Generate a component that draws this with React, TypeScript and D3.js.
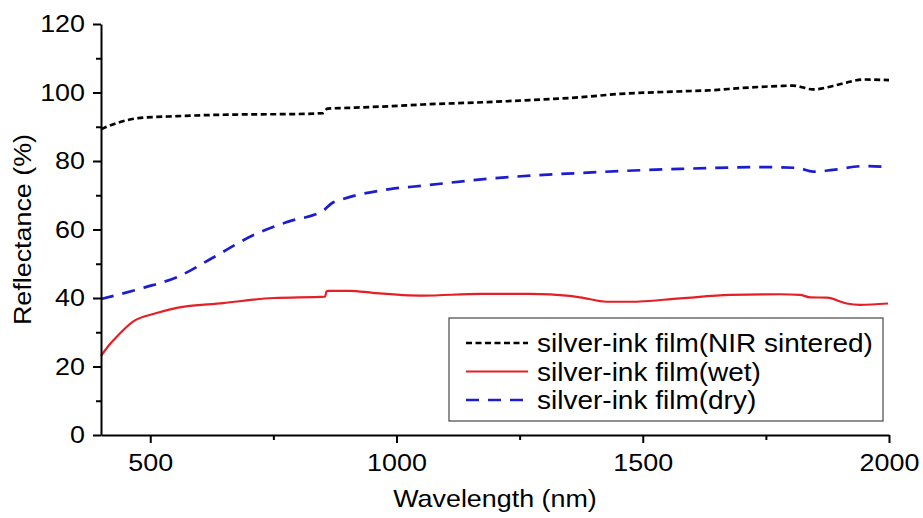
import React, { useRef, useEffect } from "react";
import * as d3 from "d3";

// NIR sintered
const sinteredWl = [400, 435, 475, 556, 615, 692, 794, 851, 860, 900, 987, 1054, 1184, 1271, 1373, 1454, 1550, 1643, 1700, 1779, 1805, 1846, 1886, 1914, 1948, 2000];
const sinteredR = [89.3, 91.2, 92.5, 93.1, 93.4, 93.6, 93.7, 94.0, 95.3, 95.5, 96.0, 96.5, 97.2, 97.8, 98.6, 99.6, 100.2, 100.7, 101.3, 101.9, 102.0, 100.9, 101.9, 102.9, 103.8, 103.6];

// wet
const wetWl = [400, 415, 432, 465, 513, 554, 648, 750, 855, 858, 861, 906, 952, 1054, 1170, 1271, 1352, 1373, 1427, 1474, 1576, 1677, 1779, 1819, 1840, 1874, 1914, 1941, 1998];
const wetR = [23.1, 26.0, 28.7, 33.1, 35.6, 37.1, 38.5, 40.0, 40.4, 42.0, 42.1, 42.1, 41.5, 40.7, 41.2, 41.2, 40.6, 40.2, 38.9, 38.9, 39.9, 40.9, 41.1, 40.9, 40.2, 40.1, 38.4, 38.0, 38.4];

// dry
const dryWl = [400, 489, 556, 625, 716, 780, 851, 870, 885, 987, 1054, 1184, 1373, 1576, 1744, 1813, 1846, 1886, 1948, 2000];
const dryR = [39.7, 43.1, 46.2, 51.6, 58.8, 62.3, 65.5, 67.8, 68.6, 71.8, 72.8, 74.8, 76.5, 77.7, 78.2, 78.0, 76.9, 77.4, 78.5, 78.3];

const xMajor = [500, 1000, 1500, 2000];
const xMinor = [750, 1250, 1750];
const yMajor = [0, 20, 40, 60, 80, 100, 120];
const yMinor = [10, 30, 50, 70, 90, 110];

const legendLabels = ["silver-ink film(NIR sintered)", "silver-ink film(wet)", "silver-ink film(dry)"];

const W = 923;
const H = 518;
const FONT = "'Liberation Sans', Arial, sans-serif";
const STRETCH = 1.12;

export default function App() {
  const svgRef = useRef<SVGSVGElement>(null);

  useEffect(() => {
    const svg = d3.select(svgRef.current);
    svg.selectAll("*").remove();

    const x = d3.scaleLinear().domain([400, 2000]).range([101, 889]);
    const y = d3.scaleLinear().domain([0, 120]).range([435, 24]);

    const series = [
      { wl: sinteredWl, r: sinteredR, color: "#000", dash: "6,3.5", width: 2.7, curve: d3.curveMonotoneX },
      { wl: wetWl, r: wetR, color: "#e41f25", dash: null, width: 2.2, curve: d3.curveMonotoneX },
      { wl: dryWl, r: dryR, color: "#1c1cd0", dash: "13,9", width: 2.7, curve: d3.curveMonotoneX },
    ];

    // lines
    series.forEach(s => {
      const pts = s.wl.map((w, i) => [w, s.r[i]] as [number, number]);
      const line = d3.line<[number, number]>()
        .x(d => x(d[0]))
        .y(d => y(d[1]))
        .curve(s.curve);
      svg.append("path")
        .attr("d", line(pts))
        .attr("fill", "none")
        .attr("stroke", s.color)
        .attr("stroke-width", s.width)
        .attr("stroke-dasharray", s.dash);
    });

    // axes
    const styleAxis = (g: any) => {
      g.select(".domain").attr("stroke", "#000").attr("stroke-width", 2);
      g.selectAll(".tick line").attr("stroke", "#000").attr("stroke-width", 2);
      g.selectAll("text")
        .attr("font-family", FONT)
        .attr("font-size", 24)
        .attr("fill", "#000");
    };

    const gx = svg.append("g").attr("transform", `translate(0,${y(0)})`);
    gx.call(d3.axisBottom(x).tickValues(xMajor).tickSize(8).tickPadding(11).tickSizeOuter(0).tickFormat(d3.format("d")));
    styleAxis(gx);
    gx.selectAll("text").attr("transform", `scale(${STRETCH},1)`);

    const gxm = svg.append("g").attr("transform", `translate(0,${y(0)})`);
    gxm.call(d3.axisBottom(x).tickValues(xMinor).tickSize(5).tickFormat(() => "").tickSizeOuter(0));
    styleAxis(gxm);
    gxm.select(".domain").remove();

    const gy = svg.append("g").attr("transform", `translate(${x(400)},0)`);
    gy.call(d3.axisLeft(y).tickValues(yMajor).tickSize(8).tickPadding(8).tickSizeOuter(0).tickFormat(d3.format("d")));
    styleAxis(gy);
    gy.selectAll("text").attr("x", -16 / STRETCH).attr("transform", `scale(${STRETCH},1)`);

    const gym = svg.append("g").attr("transform", `translate(${x(400)},0)`);
    gym.call(d3.axisLeft(y).tickValues(yMinor).tickSize(5).tickFormat(() => "").tickSizeOuter(0));
    styleAxis(gym);
    gym.select(".domain").remove();

    // axis titles
    svg.append("text")
      .attr("transform", `translate(${(x(400) + x(2000)) / 2},507) scale(${STRETCH},1)`)
      .attr("text-anchor", "middle")
      .attr("font-family", FONT)
      .attr("font-size", 24)
      .text("Wavelength (nm)");

    svg.append("text")
      .attr("transform", `translate(31,${(y(0) + y(120)) / 2}) rotate(-90) scale(${STRETCH},1)`)
      .attr("text-anchor", "middle")
      .attr("font-family", FONT)
      .attr("font-size", 24)
      .text("Reflectance (%)");

    // legend
    const lg = svg.append("g").attr("transform", "translate(449,318)");
    lg.append("rect")
      .attr("width", 434)
      .attr("height", 103)
      .attr("fill", "#fff")
      .attr("stroke", "#555")
      .attr("stroke-width", 1.3);
    series.forEach((s, i) => {
      const cy = 25 + i * 28.5;
      lg.append("line")
        .attr("x1", 17).attr("x2", 79)
        .attr("y1", cy).attr("y2", cy)
        .attr("stroke", s.color)
        .attr("stroke-width", s.width)
        .attr("stroke-dasharray", s.dash);
      lg.append("text")
        .attr("transform", `translate(88,${cy + 9}) scale(${STRETCH},1)`)
        .attr("font-family", FONT)
        .attr("font-size", 25)
        .text(legendLabels[i]);
    });
  }, []);

  return (
    <svg
      ref={svgRef}
      width={W}
      height={H}
      style={{ position: "absolute", left: 0, top: 0, background: "#fff" }}
    />
  );
}
